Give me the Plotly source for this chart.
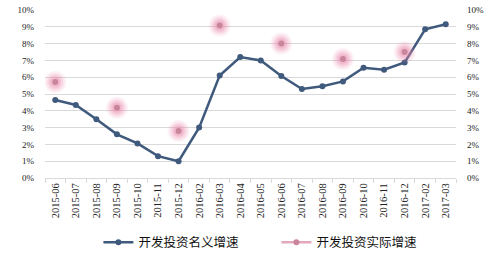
import plotly.graph_objects as go

categories = ["2015-06", "2015-07", "2015-08", "2015-09", "2015-10", "2015-11", "2015-12",
              "2016-02", "2016-03", "2016-04", "2016-05", "2016-06", "2016-07", "2016-08",
              "2016-09", "2016-10", "2016-11", "2016-12", "2017-02", "2017-03"]
nominal = [4.64, 4.35, 3.5, 2.6, 2.06, 1.3, 1.0, 3.0, 6.1, 7.2, 7.0, 6.07, 5.3, 5.46,
           5.75, 6.56, 6.45, 6.88, 8.85, 9.15]
real = [5.71, None, None, 4.18, None, None, 2.8, None, 9.07, None, None, 8.0, None, None,
        7.08, None, None, 7.5, None, None]
y_ticks = [0, 1, 2, 3, 4, 5, 6, 7, 8, 9, 10]
y_labels = [f"{v}%" for v in y_ticks]

navy = "#3F5A7D"

fig = go.Figure()
fig.add_trace(go.Scatter(x=categories, y=nominal, mode="lines+markers", name="开发投资名义增速",
                         line=dict(color=navy, width=2.5), marker=dict(color=navy, size=6)))
# soft glow layers for the real series
for size, alpha in [(22, 0.10), (19, 0.12), (16, 0.15), (13, 0.2), (10, 0.25)]:
    fig.add_trace(go.Scatter(x=categories, y=real, mode="markers", showlegend=False,
                             hoverinfo="skip",
                             marker=dict(color=f"rgba(236,140,175,{alpha})", size=size,
                                         line=dict(width=0))))
fig.add_trace(go.Scatter(x=categories, y=real, mode="lines+markers", name="开发投资实际增速",
                         connectgaps=False,
                         line=dict(color="#E3A9BB", width=2.5),
                         marker=dict(color="#C9869B", size=6, line=dict(width=0))))
fig.add_trace(go.Scatter(x=categories, y=nominal, yaxis="y2", mode="markers", showlegend=False,
                         hoverinfo="skip", marker=dict(opacity=0)))

axis_font = dict(family="Liberation Serif", size=9, color="#222222")
x_font = dict(family="Liberation Serif", size=10.5, color="#222222")
fig.update_layout(
    width=493, height=256,
    margin=dict(l=45, r=36.5, t=10, b=78, autoexpand=False),
    paper_bgcolor="white", plot_bgcolor="white",
    font=dict(family="Noto Sans CJK SC", color="#222222"),
    xaxis=dict(type="category", tickangle=-90, tickfont=x_font,
               showline=True, linecolor="#D9D9D9", linewidth=1,
               ticks="outside", tickson="boundaries", ticklen=4, tickcolor="#D9D9D9",
               showgrid=False, range=[-0.5, len(categories) - 0.5], automargin=False),
    yaxis=dict(range=[0, 10], tickvals=y_ticks, ticktext=y_labels, tickfont=axis_font,
               showgrid=True, gridcolor="#D9D9D9", gridwidth=1, zeroline=False,
               ticks="", ticklabelstandoff=10, automargin=False),
    yaxis2=dict(range=[0, 10], tickvals=y_ticks, ticktext=y_labels, tickfont=axis_font,
                overlaying="y", side="right", showgrid=False, zeroline=False,
                ticks="", ticklabelstandoff=10, automargin=False),
    legend=dict(orientation="h", x=0.563, xanchor="center",
                y=-0.295, yanchor="top",
                font=dict(family="Noto Sans CJK SC", size=12.5, color="#111111"),
                entrywidth=133, entrywidthmode="pixels", tracegroupgap=0,
                bgcolor="rgba(0,0,0,0)"),
    showlegend=True,
)
fig.write_html("out.html")
